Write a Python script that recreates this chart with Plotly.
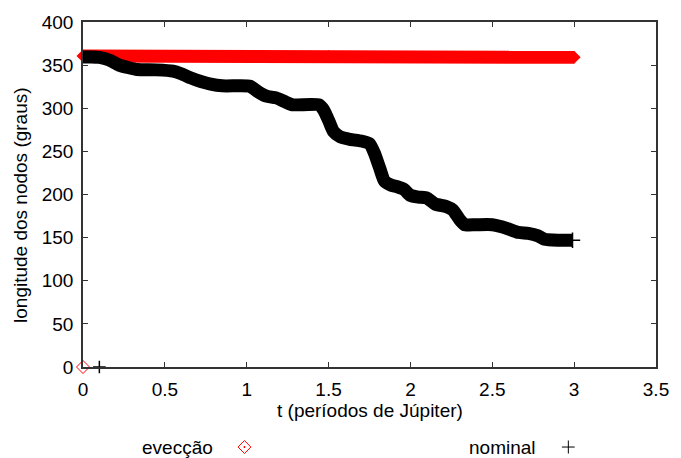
import plotly.graph_objects as go

# ---- data ----
evec_t = [0.0, 1.5, 3.0]
evec_v = [360.5, 360.0, 359.0]

nom_t = [0.00, 0.05, 0.10, 0.16, 0.22, 0.28, 0.33, 0.45, 0.55, 0.60, 0.66, 0.72,
         0.78, 0.85, 0.95, 1.02, 1.07, 1.12, 1.18, 1.24, 1.28, 1.44, 1.47, 1.50,
         1.53, 1.57, 1.63, 1.70, 1.75, 1.78, 1.81, 1.84, 1.88, 1.92, 1.96, 2.00,
         2.05, 2.10, 2.15, 2.22, 2.26, 2.30, 2.33, 2.40, 2.50, 2.55, 2.60, 2.66,
         2.72, 2.78, 2.82, 2.90, 2.99]
nom_v = [359.5, 359.5, 359.0, 356.0, 350.0, 347.0, 345.0, 344.5, 343.0, 340.0, 335.0, 331.0,
         328.0, 326.0, 326.0, 325.5, 319.0, 314.0, 312.0, 307.0, 304.0, 304.0, 298.0, 286.0,
         273.0, 267.0, 264.0, 262.0, 259.0, 248.0, 232.0, 216.0, 211.0, 209.0, 206.0, 199.0,
         197.0, 196.0, 189.0, 186.0, 182.0, 171.0, 165.0, 165.0, 165.0, 163.0, 160.0, 156.0,
         155.0, 152.0, 148.0, 147.0, 147.0]

# isolated points at zero
evec0_t, evec0_v = [0.0], [0.0]
nom0_t, nom0_v = [0.1], [0.0]

x_ticks = [0, 0.5, 1, 1.5, 2, 2.5, 3, 3.5]
x_ticklabels = ["0", "0.5", "1", "1.5", "2", "2.5", "3", "3.5"]
y_ticks = [0, 50, 100, 150, 200, 250, 300, 350, 400]

legend_names = ["evecção", "nominal"]
x_title = "t (períodos de Júpiter)"
y_title = "longitude dos nodos (graus)"

RED = "#ff0000"
FONT = "Liberation Sans, Arial, sans-serif"
FS = 19

fig = go.Figure()

fig.add_trace(go.Scatter(
    x=evec_t, y=evec_v, mode="lines+markers",
    line=dict(color=RED, width=13),
    marker=dict(symbol="diamond", size=10, color=RED),
    showlegend=False, cliponaxis=False))

fig.add_trace(go.Scatter(
    x=nom_t, y=nom_v, mode="lines",
    line=dict(color="black", width=13, shape="spline", smoothing=0.5),
    showlegend=False, cliponaxis=False))

# end-point plus marker of the nominal series (horizontal arm sticks out)
fig.add_trace(go.Scatter(
    x=nom_t[-1:], y=nom_v[-1:], mode="markers",
    marker=dict(symbol="cross-thin", size=11, line=dict(color="black", width=1.5)),
    showlegend=False, cliponaxis=False))

fig.add_trace(go.Scatter(
    x=evec0_t, y=evec0_v, mode="markers",
    marker=dict(symbol="diamond-open", size=10, color=RED, line=dict(color=RED, width=1)),
    showlegend=False, cliponaxis=False))

fig.add_trace(go.Scatter(
    x=nom0_t, y=nom0_v, mode="markers",
    marker=dict(symbol="cross-thin", size=9, line=dict(color="black", width=1.5)),
    showlegend=False, cliponaxis=False))

axis_common = dict(
    showline=True, linecolor="#333333", linewidth=1.5, mirror="ticks",
    ticks="inside", ticklen=5, tickwidth=1, tickcolor="#333333",
    showgrid=False, zeroline=False,
    tickfont=dict(family=FONT, size=FS, color="black"),
)

# legend geometry (paper units; plot area 582 x 345 px)
PW, PH = 582.0, 345.0
leg_y = -0.232
dia_x, plus_x = 0.2818, 0.847
hw, hh = 6.5 / PW, 6.5 / PH

shapes = [
    dict(type="path", xref="paper", yref="paper",
         path=f"M {dia_x-hw},{leg_y} L {dia_x},{leg_y+hh} L {dia_x+hw},{leg_y} L {dia_x},{leg_y-hh} Z",
         line=dict(color=RED, width=1), fillcolor="rgba(0,0,0,0)"),
    dict(type="rect", xref="paper", yref="paper",
         x0=dia_x - 0.5 / PW, x1=dia_x + 0.5 / PW, y0=leg_y - 0.5 / PH, y1=leg_y + 0.5 / PH,
         line=dict(color=RED, width=1), fillcolor=RED),
    dict(type="line", xref="paper", yref="paper",
         x0=plus_x - hw, x1=plus_x + hw, y0=leg_y, y1=leg_y,
         line=dict(color="black", width=1)),
    dict(type="line", xref="paper", yref="paper",
         x0=plus_x, x1=plus_x, y0=leg_y - hh, y1=leg_y + hh,
         line=dict(color="black", width=1)),
]

fig.update_layout(
    width=681, height=458,
    margin=dict(l=83, r=16, t=22, b=91),
    plot_bgcolor="white", paper_bgcolor="white",
    font=dict(family=FONT, size=FS, color="black"),
    xaxis=dict(range=[0, 3.5], tickvals=x_ticks, ticktext=x_ticklabels,
               ticklabelstandoff=4, **axis_common),
    yaxis=dict(range=[0, 400], tickvals=y_ticks, ticklabelstandoff=4, **axis_common),
    shapes=shapes,
    annotations=[
        dict(text=x_title, x=0.5, y=-0.1275, xref="paper", yref="paper",
             showarrow=False, xanchor="center", yanchor="middle",
             font=dict(family=FONT, size=FS)),
        dict(text=y_title, x=-0.108, y=0.47, xref="paper", yref="paper",
             showarrow=False, xanchor="center", yanchor="middle", textangle=-90,
             font=dict(family=FONT, size=FS)),
        dict(text=legend_names[0], x=0.2302, y=leg_y, xref="paper", yref="paper",
             showarrow=False, xanchor="right", yanchor="middle",
             font=dict(family=FONT, size=FS)),
        dict(text=legend_names[1], x=0.7938, y=leg_y, xref="paper", yref="paper",
             showarrow=False, xanchor="right", yanchor="middle",
             font=dict(family=FONT, size=FS)),
    ],
)

fig.write_html("out.html")
